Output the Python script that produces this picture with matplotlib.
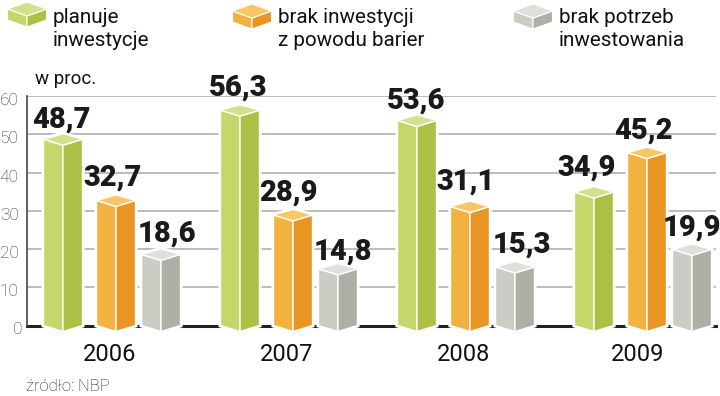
import matplotlib
matplotlib.use('Agg')
import matplotlib.pyplot as plt
from matplotlib.patches import Polygon
from matplotlib.transforms import ScaledTranslation

plt.rcParams['font.family'] = ['Roboto', 'DejaVu Sans']

lata = ['2006', '2007', '2008', '2009']
planuje = [48.7, 56.3, 53.6, 34.9]
bariery = [32.7, 28.9, 31.1, 45.2]
brak_potrzeb = [18.6, 14.8, 15.3, 19.9]

# kolory: gora, lewa sciana, prawa sciana
zielony = ('#d3e08c', '#c3d76b', '#adbf44')
pomaranczowy = ('#f6c763', '#f3b23f', '#e99524')
szary = ('#dfe0da', '#cbccc3', '#aeb0a5')

# srodki slupkow w pikselach obrazka
x_planuje = [63, 240, 417, 594]
x_bariery = [116, 293, 470, 647]
x_brak = [161, 338, 515, 692]
x_lata = [110, 287, 464, 638]

# przesuniecia etykiet (dx, dy w pikselach)
off_planuje = [(-2, 12), (-2, 15), (-1, 12), (-7, 16)]
off_bariery = [(-3, 15), (-5, 14), (-4, 17), (-4, 14)]
off_brak = [(6, 13), (5, 9), (7, 14), (0, 14)]

W, H = 720, 396
px = 1 / 100
fig = plt.figure(figsize=(W * px, H * px), dpi=100)
fig.patch.set_facecolor('white')

# y: 0 -> 325.5 px, 60 -> 96 px
ax = fig.add_axes([27 / W, (H - 325.5) / H, (716 - 27) / W, (325.5 - 96) / H])
ax.set_xlim(27, 716)
ax.set_ylim(0, 60)
u = 60 / (325.5 - 96)  # jednostki na piksel

for s in ['top', 'right', 'bottom']:
    ax.spines[s].set_visible(False)
ax.spines['left'].set_color('#444444')
ax.spines['left'].set_linewidth(1.2)
ax.set_xticks([])
ax.set_yticks([0, 10, 20, 30, 40, 50, 60])
ax.tick_params(axis='y', length=0, pad=6, labelsize=12.5, labelcolor='#333333')
for t in ax.get_yticklabels():
    t.set_fontweight('light')
    dx = 4 / 100 if t.get_text() == '0' else 0
    t.set_transform(t.get_transform() + ScaledTranslation(dx, -3 / 100, fig.dpi_scale_trans))
for v in [10, 20, 30, 40, 50, 60]:
    ax.axhline(v, color='#aaaaaa', lw=1.1, zorder=1)
ax.axhline(0, color='#222222', lw=2.2, zorder=1, clip_on=False)


def slupek(a, xc, v, kolory, pol=19.5, dol=6, gora=6, tyl=5.5):
    lewa = [(xc - pol, 0), (xc, -dol * u), (xc, v - gora * u), (xc - pol, v)]
    prawa = [(xc + pol, 0), (xc, -dol * u), (xc, v - gora * u), (xc + pol, v)]
    wierzch = [(xc - pol, v), (xc, v + tyl * u), (xc + pol, v), (xc, v - gora * u)]
    # biala otoczka przerywa linie siatki
    obrys = [(xc - pol, 0), (xc, -dol * u), (xc + pol, 0), (xc + pol, v), (xc, v + tyl * u), (xc - pol, v)]
    a.add_patch(Polygon(obrys, closed=True, fc='white', ec='white', lw=3.0, zorder=3, clip_on=False))
    a.add_patch(Polygon(lewa, closed=True, fc=kolory[1], ec='white', lw=1.0, zorder=4, clip_on=False))
    a.add_patch(Polygon(prawa, closed=True, fc=kolory[2], ec='white', lw=1.0, zorder=4, clip_on=False))
    a.add_patch(Polygon(wierzch, closed=True, fc=kolory[0], ec='white', lw=1.0, zorder=4, clip_on=False))


for xs, wartosci, kolory, offs in [(x_planuje, planuje, zielony, off_planuje),
                                   (x_bariery, bariery, pomaranczowy, off_bariery),
                                   (x_brak, brak_potrzeb, szary, off_brak)]:
    for xc, v, (dx, dy) in zip(xs, wartosci, offs):
        slupek(ax, xc, v, kolory)
        ax.annotate(str(v).replace('.', ','), (xc, v), xytext=(dx * 0.72, dy * 0.72),
                    textcoords='offset points', ha='center', va='baseline',
                    fontsize=21, fontweight='black', color='#1a1a1a', zorder=6,
                    annotation_clip=False)

# warstwa w pikselach na legende i opisy
nak = fig.add_axes([0, 0, 1, 1], facecolor='none')
nak.set_xlim(0, W)
nak.set_ylim(H, 0)
nak.axis('off')


def kostka(a, xc, yb, kolory, pol=19.5, h=11, d=7):
    a.add_patch(Polygon([(xc - pol, yb - h), (xc, yb - h + d), (xc, yb + d), (xc - pol, yb)], fc=kolory[1], ec='white', lw=0.8))
    a.add_patch(Polygon([(xc + pol, yb - h), (xc, yb - h + d), (xc, yb + d), (xc + pol, yb)], fc=kolory[2], ec='white', lw=0.8))
    a.add_patch(Polygon([(xc - pol, yb - h), (xc, yb - h - d), (xc + pol, yb - h), (xc, yb - h + d)], fc=kolory[0], ec='white', lw=0.8))


kostka(nak, 27, 20, zielony)
kostka(nak, 252, 22, pomaranczowy)
kostka(nak, 533, 22, szary)

leg = dict(fontsize=14.9, color='#111111', va='baseline', ha='left', linespacing=1.0)
nak.text(53, 23, 'planuje', **leg)
nak.text(53, 46, 'inwestycje', **leg)
nak.text(278, 23, 'brak inwestycji', **leg)
nak.text(278, 46, 'z powodu barier', **leg)
nak.text(559, 23, 'brak potrzeb', **leg)
nak.text(559, 46, 'inwestowania', **leg)

nak.text(35, 84, 'w proc.', fontsize=13.5, color='#111111', va='baseline', ha='left')
for xt, r in zip(x_lata, lata):
    nak.text(xt, 361, r, fontsize=17, color='#111111', va='baseline', ha='center')
nak.text(26, 391, 'źródło: NBP', fontsize=12, fontweight='light', color='#222222', va='baseline', ha='left')

fig.savefig('out.png', dpi=100)
